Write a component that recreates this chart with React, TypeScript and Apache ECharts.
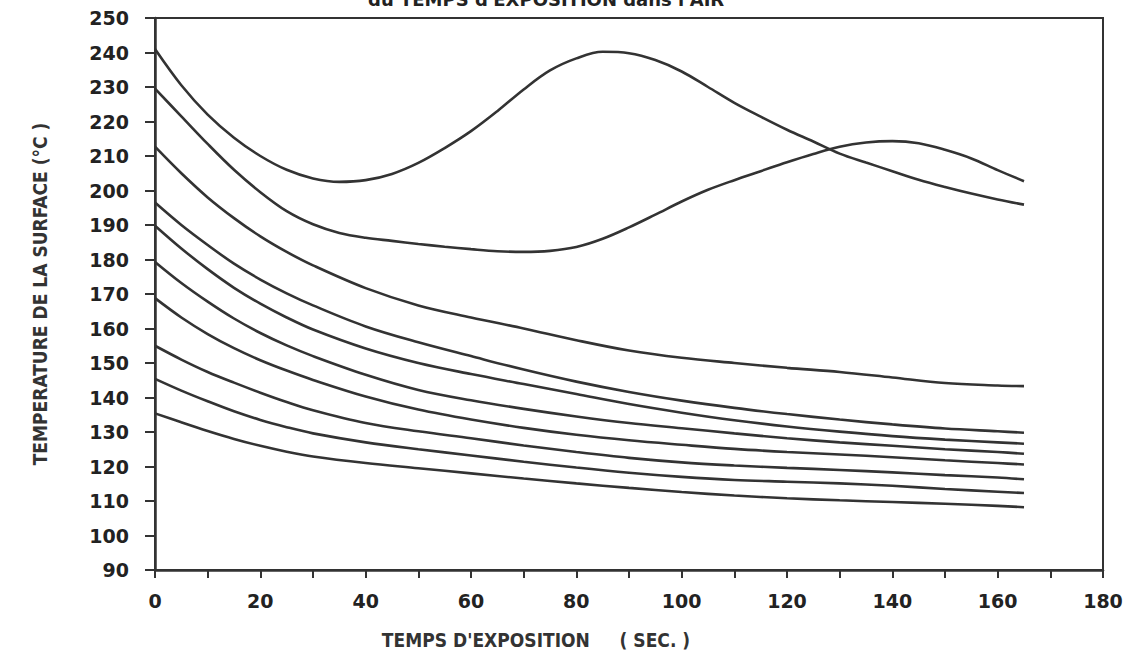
import React, { useEffect, useRef } from "react";
import * as echarts from "echarts";

const titleText = "du TEMPS d'EXPOSITION dans l'AIR";
const xAxisName = "TEMPS D'EXPOSITION     ( SEC. )";
const yAxisName = "TEMPERATURE DE LA SURFACE (°C )";

// x positions (seconds)
const xHump = [0, 5, 10, 15, 20, 25, 30, 35, 40, 45, 50, 55, 60, 65, 70, 75, 80, 85, 90, 95, 100, 105, 110, 115, 120, 125, 130, 135, 140, 145, 150, 155, 160, 165];
const xFan = [0, 5, 10, 15, 20, 25, 30, 40, 50, 60, 70, 80, 90, 100, 110, 120, 130, 140, 150, 160, 165];

// two curves with a hump
const curveA = [241, 230.5, 222, 215.3, 210, 206, 203.5, 202.5, 203, 204.8, 208, 212.3, 217.2, 223, 229.3, 234.8, 238.3, 240.2, 239.8, 237.8, 234.5, 230, 225.4, 221.4, 217.6, 214.2, 210.7, 208.1, 205.6, 203.1, 201, 199.1, 197.4, 195.9];
const curveB = [229.5, 221.5, 213.5, 206, 199.5, 194, 190.2, 187.7, 186.3, 185.4, 184.5, 183.7, 183, 182.4, 182.2, 182.5, 183.6, 186, 189.3, 193, 196.8, 200.2, 203, 205.6, 208.2, 210.6, 212.7, 213.9, 214.3, 213.7, 211.8, 209.3, 205.9, 202.7];

// decreasing curves
const curveC = [212.7, 205, 198, 192, 186.7, 182.2, 178.3, 171.7, 166.7, 163.2, 160, 156.6, 153.6, 151.5, 150, 148.6, 147.4, 145.8, 144.2, 143.5, 143.3];
const curveD = [196.5, 190, 184.2, 178.8, 174.2, 170.2, 166.7, 160.6, 156, 152, 148.1, 144.6, 141.6, 139.1, 137, 135.2, 133.6, 132.2, 131, 130.2, 129.8];
const curveE = [189.8, 183.2, 177.2, 171.8, 167.2, 163.2, 159.7, 154.2, 150, 146.8, 143.9, 141, 138.1, 135.6, 133.4, 131.6, 130.1, 128.8, 127.8, 127, 126.6];
const curveF = [179.3, 173.2, 167.8, 162.9, 158.7, 155.1, 152, 146.6, 142.2, 139.2, 136.7, 134.5, 132.6, 131.1, 129.6, 128.2, 127, 126, 125, 124.2, 123.7];
const curveG = [168.8, 163.2, 158.4, 154.3, 150.8, 147.8, 145.1, 140.3, 136.5, 133.6, 131.2, 129.2, 127.6, 126.3, 125.1, 124.2, 123.5, 122.7, 121.8, 121, 120.6];
const curveH = [155, 151, 147.4, 144.3, 141.4, 138.7, 136.3, 132.6, 130.2, 128.2, 126.1, 124.2, 122.5, 121.2, 120.3, 119.6, 119, 118.3, 117.5, 116.8, 116.3];
const curveI = [145.4, 142, 138.9, 136, 133.5, 131.4, 129.6, 127, 125, 123.2, 121.4, 119.7, 118.2, 117, 116.1, 115.6, 115.1, 114.4, 113.5, 112.7, 112.3];
const curveJ = [135.4, 132.8, 130.3, 128, 126, 124.3, 122.9, 121, 119.5, 118, 116.5, 115.1, 113.8, 112.6, 111.6, 110.8, 110.2, 109.7, 109.2, 108.6, 108.2];

const humpCurves = [curveA, curveB];
const fanCurves = [curveC, curveD, curveE, curveF, curveG, curveH, curveI, curveJ];

const INK = "#333333";
const labelFont = "'DejaVu Sans', sans-serif";
const nameFont = "'DejaVu Sans Condensed', 'Liberation Sans Narrow', sans-serif";

export default function App() {
  const ref = useRef<HTMLDivElement>(null);
  useEffect(() => {
    document.body.style.margin = "0";
    const chart = echarts.init(ref.current!, null, { renderer: "svg" });
    const mk = (xs: number[], ys: number[]) => ({
      type: "line",
      data: xs.map((x, i) => [x, ys[i]]),
      showSymbol: false,
      smooth: 0.35,
      lineStyle: { color: INK, width: 2.6 },
      silent: true,
    });
    const series = [
      ...humpCurves.map((c) => mk(xHump, c)),
      ...fanCurves.map((c) => mk(xFan, c)),
    ];
    chart.setOption({
      animation: false,
      backgroundColor: "#ffffff",
      grid: {
        left: 155,
        right: 26,
        top: 18,
        bottom: 77,
        show: true,
        borderColor: INK,
        borderWidth: 2,
        backgroundColor: "transparent",
      },
      xAxis: {
        type: "value",
        min: 0,
        max: 180,
        interval: 20,
        name: xAxisName,
        nameLocation: "middle",
        nameGap: 60,
        nameTextStyle: {
          fontFamily: nameFont,
          fontWeight: "bold",
          fontSize: 19,
          color: INK,
          padding: [0, 0, 0, -186],
        },
        axisLine: { show: true, onZero: false, lineStyle: { color: INK, width: 2.5 } },
        axisTick: { show: true, length: 8, lineStyle: { color: INK, width: 2 } },
        minorTick: { show: true, splitNumber: 2, length: 8, lineStyle: { color: INK, width: 2 } },
        splitLine: { show: false },
        axisLabel: {
          margin: 21,
          fontFamily: labelFont,
          fontWeight: "bold",
          fontSize: 19,
          color: "#222",
        },
      },
      yAxis: {
        type: "value",
        min: 90,
        max: 250,
        interval: 10,
        name: yAxisName,
        nameLocation: "middle",
        nameGap: 106,
        nameRotate: 90,
        nameTextStyle: {
          fontFamily: nameFont,
          fontWeight: "bold",
          fontSize: 19,
          color: INK,
        },
        axisLine: { show: true, onZero: false, lineStyle: { color: INK, width: 2.5 } },
        axisTick: { show: true, length: 10, lineStyle: { color: INK, width: 2 } },
        splitLine: { show: false },
        axisLabel: {
          margin: 26,
          fontFamily: labelFont,
          fontWeight: "bold",
          fontSize: 19,
          color: "#222",
        },
      },
      graphic: [
        {
          type: "text",
          left: 368,
          top: -10,
          silent: true,
          style: {
            text: titleText,
            fontFamily: labelFont,
            fontWeight: "bold",
            fontSize: 18,
            fill: "#222",
          },
        },
      ],
      series,
    });
    return () => chart.dispose();
  }, []);
  return (
    <div
      ref={ref}
      style={{ position: "fixed", left: 0, top: 0, width: 1129, height: 654, background: "#fff" }}
    />
  );
}
